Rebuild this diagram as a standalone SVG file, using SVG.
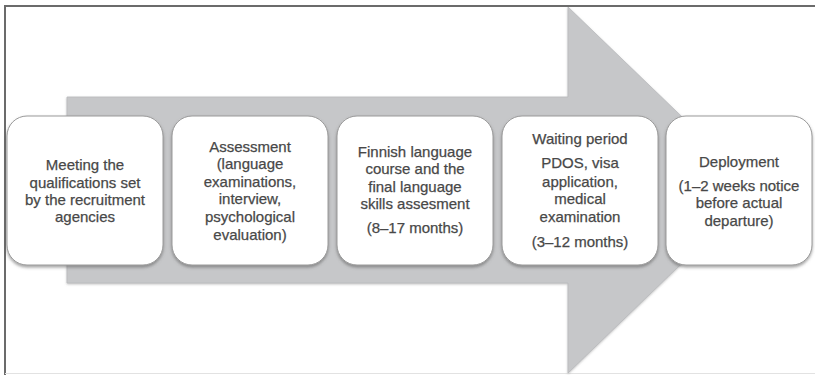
<svg xmlns="http://www.w3.org/2000/svg" width="815" height="375" viewBox="0 0 815 375">
  <defs>
    <filter id="shadow" x="-10%" y="-10%" width="120%" height="125%">
      <feDropShadow dx="0" dy="2" stdDeviation="1.8" flood-color="#555" flood-opacity="0.55"/>
    </filter>
    <filter id="arrowShadow" x="-5%" y="-5%" width="110%" height="110%">
      <feDropShadow dx="0" dy="1" stdDeviation="0.8" flood-color="#888" flood-opacity="0.5"/>
    </filter>
  </defs>
  <style>
    .frame { fill: #ffffff; stroke: none; }
    .edge { stroke: #6b6b6b; stroke-width: 2; fill: none; }
    .arrow { fill: #c6c7c9; stroke: #b9babc; stroke-width: 0.8; }
    .box { fill: #ffffff; stroke: #9a9a9a; stroke-width: 1; filter: url(#shadow); }
    .lbl { font-family: "Liberation Sans", Arial, sans-serif; font-size: 15px; fill: #484848; stroke: #484848; stroke-width: 0.25px; text-anchor: middle; }
  </style>

  <!-- page background and frame -->
  <rect class="frame" x="0" y="0" width="815" height="375"/>
  <line class="edge" x1="5" y1="6" x2="815" y2="6"/>
  <line class="edge" x1="5" y1="5" x2="5" y2="375"/>
  <line x1="5" y1="373.5" x2="815" y2="373.5" stroke="#e2e2e2" stroke-width="1"/>

  <!-- block arrow behind the process steps -->
  <g id="connectors">
    <path class="arrow" filter="url(#arrowShadow)" d="M67,97 L568,97 L568,7 L758,190 L568,373 L568,283 L67,283 Z"/>
  </g>

  <g id="step1">
    <rect class="box" x="7" y="116" width="156" height="149" rx="20" ry="20"/>
    <text class="lbl" x="85" y="170">Meeting the</text>
    <text class="lbl" x="85" y="188">qualifications set</text>
    <text class="lbl" x="85" y="205">by the recruitment</text>
    <text class="lbl" x="85" y="222">agencies</text>
  </g>

  <g id="step2">
    <rect class="box" x="172" y="116" width="156" height="149" rx="20" ry="20"/>
    <text class="lbl" x="250" y="152">Assessment</text>
    <text class="lbl" x="250" y="169">(language</text>
    <text class="lbl" x="250" y="187">examinations,</text>
    <text class="lbl" x="250" y="204">interview,</text>
    <text class="lbl" x="250" y="222">psychological</text>
    <text class="lbl" x="250" y="240">evaluation)</text>
  </g>

  <g id="step3">
    <rect class="box" x="337" y="116" width="156" height="149" rx="20" ry="20"/>
    <text class="lbl" x="415" y="157">Finnish language</text>
    <text class="lbl" x="415" y="174">course and the</text>
    <text class="lbl" x="415" y="192">final language</text>
    <text class="lbl" x="415" y="209">skills assesment</text>
    <text class="lbl" x="415" y="233">(8–17 months)</text>
  </g>

  <g id="step4">
    <rect class="box" x="502" y="116" width="156" height="149" rx="20" ry="20"/>
    <text class="lbl" x="580" y="144">Waiting period</text>
    <text class="lbl" x="580" y="168">PDOS, visa</text>
    <text class="lbl" x="580" y="187">application,</text>
    <text class="lbl" x="580" y="204">medical</text>
    <text class="lbl" x="580" y="222">examination</text>
    <text class="lbl" x="580" y="247">(3–12 months)</text>
  </g>

  <g id="step5">
    <rect class="box" x="666" y="116" width="146" height="149" rx="20" ry="20"/>
    <text class="lbl" x="739" y="167">Deployment</text>
    <text class="lbl" x="739" y="191">(1–2 weeks notice</text>
    <text class="lbl" x="739" y="208">before actual</text>
    <text class="lbl" x="739" y="226">departure)</text>
  </g>
</svg>
